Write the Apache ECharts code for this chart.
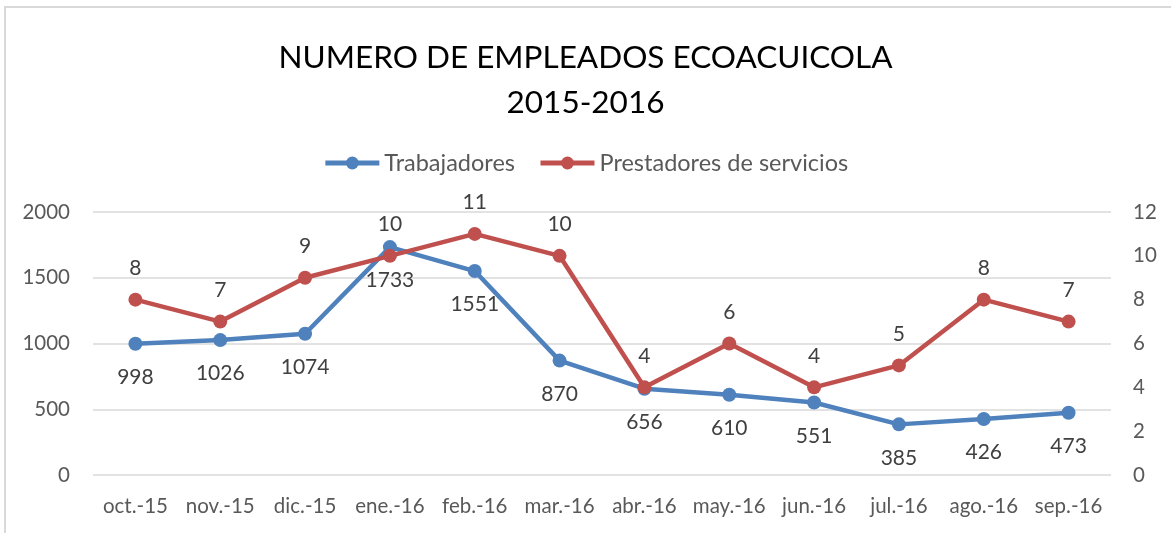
<!DOCTYPE html>
<html><head><meta charset="utf-8">
<script src="https://cdn.jsdelivr.net/npm/echarts@6/dist/echarts.min.js"></script>
<style>html,body{margin:0;padding:0;background:#fff}#c{width:1171px;height:533px}</style>
</head><body><div id="c"></div>
<script>
const categories = ['oct.-15','nov.-15','dic.-15','ene.-16','feb.-16','mar.-16','abr.-16','may.-16','jun.-16','jul.-16','ago.-16','sep.-16'];
const trabajadores = [998,1026,1074,1733,1551,870,656,610,551,385,426,473];
const prestadores = [8,7,9,10,11,10,4,6,4,5,8,7];
const leftTicks = [0,500,1000,1500,2000];
const rightTicks = [0,2,4,6,8,10,12];
const FONT = 'Lato, "Open Sans", sans-serif';
const chart = echarts.init(document.getElementById('c'));
chart.setOption({
  backgroundColor: '#fff',
  animation: false,
  textStyle: {fontFamily: FONT},
  graphic: [{type:'rect', shape:{x:5,y:7,width:1200,height:600}, style:{fill:'none', stroke:'#d9d9d9', lineWidth:2}, silent:true}],
  title: {
    text: 'NUMERO DE EMPLEADOS ECOACUICOLA\n2015-2016',
    left: 'center', top: 30,
    textStyle: {fontFamily: FONT, fontSize: 31.5, fontWeight: 'normal', color: '#000', lineHeight: 45}
  },
  legend: {
    top: 146, left: 'center', itemGap: 23, itemWidth: 54, itemHeight: 16,
    textStyle: {fontFamily: FONT, fontSize: 23.5, color: '#595959'},
    lineStyle: {width: 5},
    data: ['Trabajadores','Prestadores de servicios']
  },
  grid: {left: 93, right: 60, top: 212, bottom: 58, containLabel: false},
  xAxis: {
    type: 'category', data: categories, boundaryGap: true,
    axisLine: {show: false}, axisTick: {show: false},
    axisLabel: {fontFamily: FONT, fontSize: 20.5, color: '#595959', margin: 21, interval: 0}
  },
  yAxis: [
    {type: 'value', min: leftTicks[0], max: leftTicks[leftTicks.length-1], interval: 500,
     axisLine: {show:false}, axisTick:{show:false},
     axisLabel: {fontFamily: FONT, fontSize: 20.5, color: '#595959', margin: 23, formatter: v => String(v)},
     splitLine: {lineStyle: {color: '#d9d9d9', width: 1.5}}},
    {type: 'value', min: rightTicks[0], max: rightTicks[rightTicks.length-1], interval: 2,
     axisLine: {show:false}, axisTick:{show:false},
     axisLabel: {fontFamily: FONT, fontSize: 20.5, color: '#595959', margin: 22},
     splitLine: {show: false}}
  ],
  series: [
    {name: 'Trabajadores', type: 'line', yAxisIndex: 0, data: trabajadores,
     symbol: 'circle', symbolSize: 14,
     itemStyle: {color: '#4F81BD'}, lineStyle: {width: 4.5, color: '#4F81BD'},
     label: {show: true, position: 'bottom', distance: 16, fontFamily: FONT, fontSize: 21, color: '#404040'}},
    {name: 'Prestadores de servicios', type: 'line', yAxisIndex: 1, data: prestadores,
     symbol: 'circle', symbolSize: 14,
     itemStyle: {color: '#C0504D'}, lineStyle: {width: 4.5, color: '#C0504D'},
     label: {show: true, position: 'top', distance: 14, fontFamily: FONT, fontSize: 21, color: '#404040'}}
  ]
});
</script></body></html>
